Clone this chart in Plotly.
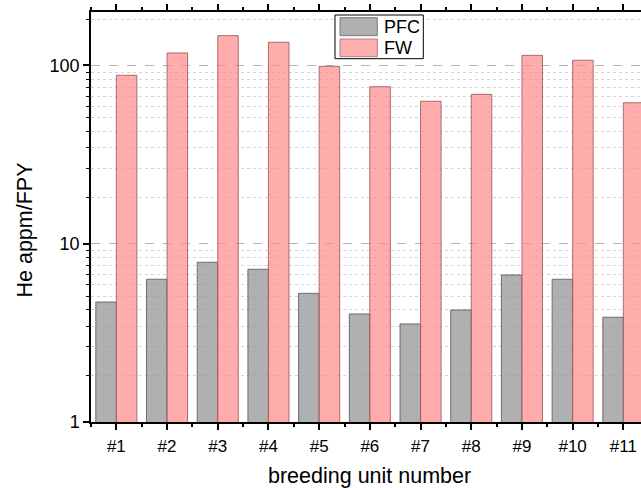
import plotly.graph_objects as go

# ---- data ----
categories = ["#1", "#2", "#3", "#4", "#5", "#6", "#7", "#8", "#9", "#10", "#11"]
pfc = [4.71, 6.32, 7.87, 7.19, 5.27, 4.04, 3.55, 4.25, 6.68, 6.32, 3.87]
fw = [88.1, 117.5, 147.0, 135.0, 98.9, 76.0, 63.0, 68.9, 114.0, 107.0, 61.8]
y_major_ticks = [1, 10, 100]
y_major_labels = ["1", "10", "100"]
series_names = ["PFC", "FW"]

W, H = 641, 488
L, T, B = 91, 12, 66
PW = W - L
PH = H - T - B
FONT = "Arial, Liberation Sans, sans-serif"

def px(xp):
    return (xp - L) / PW

def py(yp):
    return (H - B - yp) / PH

positions = list(range(1, len(categories) + 1))

pfc_fill = "rgba(150,150,150,0.75)"
fw_fill = "rgba(255,140,140,0.72)"
pfc_line = "rgba(90,90,90,0.85)"
fw_line = "rgba(160,90,90,0.85)"

fig = go.Figure()
fig.add_bar(x=positions, y=pfc, name=series_names[0], showlegend=False,
            marker=dict(color=pfc_fill, line=dict(color=pfc_line, width=1)))
fig.add_bar(x=positions, y=fw, name=series_names[1], showlegend=False,
            marker=dict(color=fw_fill, line=dict(color=fw_line, width=1)))

# Origin-style minor ticks (11 equal intervals per decade)
minor_vals = []
for base in (1, 10, 100):
    for k in range(1, 11):
        v = base + base * 9 / 11 * k
        if v < 199:
            minor_vals.append(v)

fig.update_layout(
    width=W, height=H,
    margin=dict(l=L, r=0, t=T, b=B, pad=0),
    plot_bgcolor="white", paper_bgcolor="white",
    barmode="group", bargap=0.19, bargroupgap=0,
    font=dict(family=FONT, size=18, color="black"),
    showlegend=False,
    xaxis=dict(
        range=[0.5, 0.5 + (W - L) / 50.7],
        tickmode="array", tickvals=positions, ticktext=categories,
        ticks="outside", ticklen=6, tickwidth=1.5, tickcolor="black",
        minor=dict(tickmode="linear", tick0=0.5, dtick=1, ticks="outside",
                   ticklen=3, tickwidth=1.5, tickcolor="black", showgrid=False),
        showline=True, linecolor="black", linewidth=1.5, mirror="ticks",
        showgrid=False, zeroline=False,
        ticklabelstandoff=2,
        tickfont=dict(size=17),
    ),
    yaxis=dict(
        type="log", range=[0, 2.3],
        tickmode="array", tickvals=y_major_ticks, ticktext=y_major_labels,
        ticks="outside", ticklen=6, tickwidth=1.5, tickcolor="black",
        showgrid=True, gridcolor="#b4b4b4", gridwidth=1, griddash="dash",
        minor=dict(tickmode="array", tickvals=minor_vals, ticks="outside",
                   ticklen=3, tickwidth=1, tickcolor="black",
                   showgrid=True, gridcolor="#d4d4d4", gridwidth=1, griddash="dot"),
        showline=True, linecolor="black", linewidth=1.5, mirror=False,
        zeroline=False,
        tickfont=dict(size=18),
    ),
)

# axis titles
fig.add_annotation(text="breeding unit number", xref="paper", yref="paper",
                   x=px(369), y=py(476), showarrow=False,
                   xanchor="center", yanchor="middle", font=dict(size=21.5))
fig.add_annotation(text="He appm/FPY", xref="paper", yref="paper",
                   x=px(24), y=py(230.5), showarrow=False, textangle=-90,
                   xanchor="center", yanchor="middle", font=dict(size=21.5))

# legend (Origin-style box)
fig.add_shape(type="rect", xref="paper", yref="paper",
              x0=px(335), x1=px(423.3), y0=py(58.7), y1=py(15),
              fillcolor="white", line=dict(color="black", width=1), layer="above")
fig.add_shape(type="rect", xref="paper", yref="paper",
              x0=px(340), x1=px(377.3), y0=py(35.7), y1=py(17.7),
              fillcolor="#b0b0b0", line=dict(color="#7a7a7a", width=1), layer="above")
fig.add_shape(type="rect", xref="paper", yref="paper",
              x0=px(340), x1=px(377.3), y0=py(56.7), y1=py(39),
              fillcolor="#ffb0b0", line=dict(color="#b08080", width=1), layer="above")
fig.add_annotation(text=series_names[0], xref="paper", yref="paper",
                   x=px(382), y=py(26.7), showarrow=False,
                   xanchor="left", yanchor="middle", font=dict(size=18))
fig.add_annotation(text=series_names[1], xref="paper", yref="paper",
                   x=px(382), y=py(48), showarrow=False,
                   xanchor="left", yanchor="middle", font=dict(size=18))

fig.write_html("out.html")
